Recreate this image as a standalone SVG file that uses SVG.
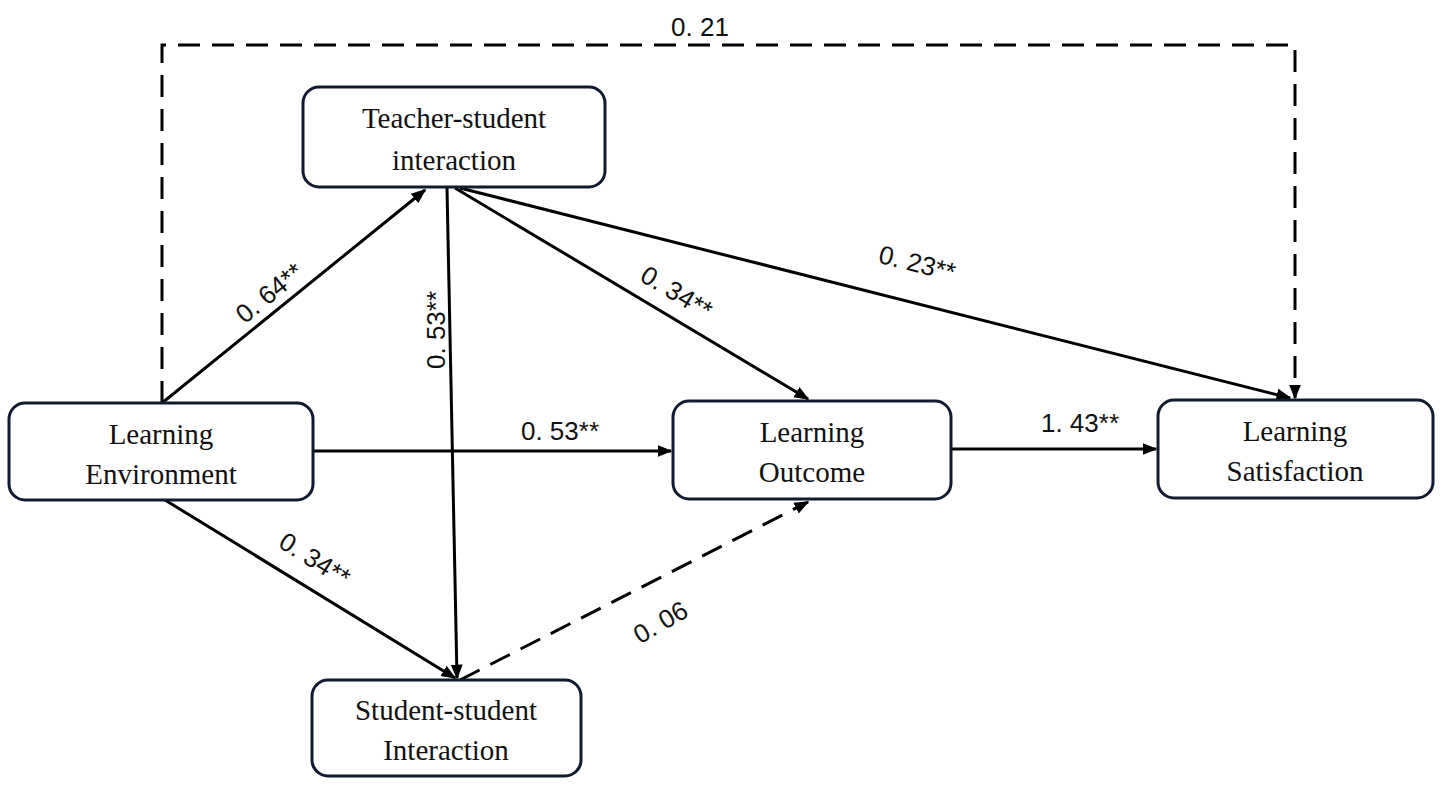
<svg xmlns="http://www.w3.org/2000/svg" width="1441" height="789" viewBox="0 0 1441 789">
<style>
.box{fill:#fff;stroke:#111a2e;stroke-width:3}
.nt{font-family:"Liberation Serif",serif;font-size:29px;fill:#111;text-anchor:middle}
.e{stroke:#000;stroke-width:3;fill:none;marker-end:url(#ah)}
.d{stroke-dasharray:22 12}
.lb{font-family:"Liberation Sans",sans-serif;font-size:26px;fill:#111;text-anchor:middle}
</style>
<defs><marker id="ah" viewBox="0 0 10 10" refX="9" refY="5" markerWidth="5" markerHeight="5" orient="auto" markerUnits="strokeWidth"><path d="M0,1 L10,5 L0,9 Z" fill="#000"/></marker></defs>
<rect width="1441" height="789" fill="#fff"/>
<g id="connectors">
<path class="e d" d="M162,403 V45 H1295 V398"/>
<path class="e" d="M162,403 L425,190"/>
<path class="e" d="M447,188 L457,678"/>
<path class="e" d="M455,188 L808,399"/>
<path class="e" d="M460,188 L1290,398"/>
<path class="e" d="M313,451 L671,451"/>
<path class="e" d="M951,449 L1156,449"/>
<path class="e" d="M165,500 L455,678"/>
<path class="e d" d="M460,680 L808,502"/>
<text class="lb" x="700" y="36">0. 21</text>
<text class="lb" transform="translate(275,300) rotate(-39)">0. 64**</text>
<text class="lb" transform="translate(445,330) rotate(-90)">0. 53**</text>
<text class="lb" transform="translate(672,300) rotate(31)">0. 34**</text>
<text class="lb" transform="translate(915,272) rotate(14)">0. 23**</text>
<text class="lb" x="560" y="440">0. 53**</text>
<text class="lb" x="1080" y="432">1. 43**</text>
<text class="lb" transform="translate(310,567) rotate(32)">0. 34**</text>
<text class="lb" transform="translate(665,630) rotate(-30)">0. 06</text>
</g>
<g id="teacher"><rect class="box" x="303" y="87" width="302" height="100" rx="16"/><text class="nt" x="454" y="128">Teacher-student</text><text class="nt" x="454" y="170">interaction</text></g>
<g id="env"><rect class="box" x="9" y="403" width="304" height="97" rx="16"/><text class="nt" x="161" y="444">Learning</text><text class="nt" x="161" y="484">Environment</text></g>
<g id="outcome"><rect class="box" x="673" y="401" width="278" height="98" rx="16"/><text class="nt" x="812" y="442">Learning</text><text class="nt" x="812" y="482">Outcome</text></g>
<g id="satisfaction"><rect class="box" x="1158" y="400" width="275" height="98" rx="16"/><text class="nt" x="1295" y="441">Learning</text><text class="nt" x="1295" y="481">Satisfaction</text></g>
<g id="student"><rect class="box" x="312" y="680" width="269" height="96" rx="16"/><text class="nt" x="446" y="720">Student-student</text><text class="nt" x="446" y="760">Interaction</text></g>
</svg>
